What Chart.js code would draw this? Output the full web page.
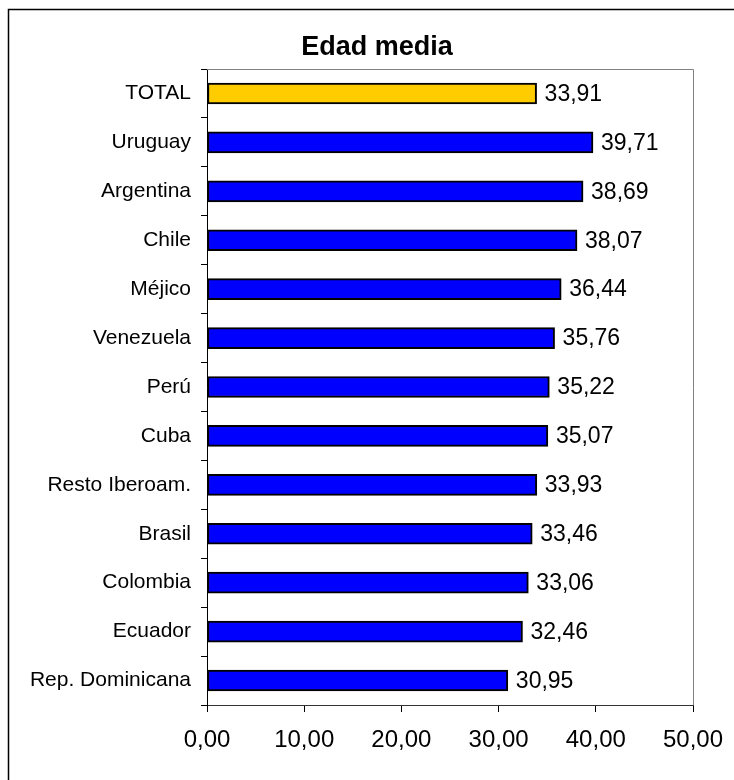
<!DOCTYPE html>
<html>
<head>
<meta charset="utf-8">
<title>Edad media</title>
<script src="https://cdn.jsdelivr.net/npm/chart.js@4.4.1/dist/chart.umd.min.js"></script>
<style>
  html, body { margin: 0; padding: 0; background: #fff; }
  #wrap { width: 734px; height: 780px; position: relative; }
</style>
</head>
<body>
<div id="wrap"><canvas id="canvas"></canvas></div>
<script>
var categories = [
    "TOTAL", "Uruguay", "Argentina", "Chile", "Méjico", "Venezuela", "Perú",
    "Cuba", "Resto Iberoam.", "Brasil", "Colombia", "Ecuador", "Rep. Dominicana"
];
var edadMedia = [33.91, 39.71, 38.69, 38.07, 36.44, 35.76, 35.22, 35.07, 33.93, 33.46, 33.06, 32.46, 30.95];
var xTicks = [0, 10, 20, 30, 40, 50];

var FONT = "'Liberation Sans', Arial, sans-serif";

function coma(v) {
    return v.toFixed(2).replace('.', ',');
}

// marco exterior, título y borde gris del área de trazado
var marco = {
    id: 'marco',
    beforeDraw: function (chart) {
        var ctx = chart.ctx;
        ctx.save();
        ctx.fillStyle = '#fff';
        ctx.fillRect(0, 0, chart.width, chart.height);
        ctx.strokeStyle = '#000';
        ctx.lineWidth = 1.5;
        ctx.strokeRect(8.5, 9.5, chart.width + 20, chart.height + 20);
        ctx.restore();
    },
    afterDatasetsDraw: function (chart) {
        var ctx = chart.ctx, a = chart.chartArea;
        ctx.save();
        ctx.strokeStyle = '#808080';
        ctx.lineWidth = 1;
        ctx.beginPath();
        ctx.moveTo(a.left, a.top + 0.5);
        ctx.lineTo(a.right + 0.5, a.top + 0.5);
        ctx.lineTo(a.right + 0.5, a.bottom);
        ctx.stroke();
        ctx.fillStyle = '#000';
        ctx.font = 'bold 27px ' + FONT;
        ctx.textAlign = 'center';
        ctx.textBaseline = 'alphabetic';
        ctx.fillText('Edad media', 377, 55);
        ctx.restore();
    }
};

// valor al final de cada barra
var etiquetas = {
    id: 'etiquetas',
    afterDatasetsDraw: function (chart) {
        var ctx = chart.ctx;
        var meta = chart.getDatasetMeta(0);
        ctx.save();
        ctx.fillStyle = '#000';
        ctx.font = '23px ' + FONT;
        ctx.textAlign = 'left';
        ctx.textBaseline = 'middle';
        meta.data.forEach(function (bar, i) {
            ctx.fillText(coma(edadMedia[i]), bar.x + 8, bar.y + 1);
        });
        ctx.restore();
    }
};

var config = {
    type: 'bar',
    data: {
        labels: categories,
        datasets: [{
            data: edadMedia,
            backgroundColor: categories.map(function (c) { return c === 'TOTAL' ? '#FFCC00' : '#0000FF'; }),
            borderColor: '#000',
            borderWidth: 2,
            borderSkipped: false,
            barThickness: 21
        }]
    },
    options: {
        indexAxis: 'y',
        responsive: true,
        maintainAspectRatio: false,
        animation: false,
        layout: { padding: { top: 69, right: 41, left: 0, bottom: 0 } },
        plugins: {
            legend: { display: false },
            title: { display: false },
            tooltip: { enabled: false }
        },
        scales: {
            x: {
                min: 0,
                max: 50,
                afterBuildTicks: function (scale) {
                    scale.ticks = xTicks.map(function (v) { return { value: v }; });
                },
                afterFit: function (scale) {
                    scale.height = 75;
                    scale.paddingLeft = 0;
                    scale.paddingRight = 0;
                },
                grid: { drawOnChartArea: false, drawTicks: true, tickLength: 7, color: '#000' },
                border: { display: true, color: '#333', width: 1 },
                ticks: {
                    color: '#000',
                    font: { family: FONT, size: 24 },
                    padding: 14,
                    maxRotation: 0,
                    callback: function (v) { return coma(v); }
                }
            },
            y: {
                afterFit: function (scale) { scale.width = 207; },
                grid: { offset: true, drawOnChartArea: false, drawTicks: true, tickLength: 6, color: '#000' },
                border: { display: true, color: '#000', width: 1 },
                ticks: {
                    color: '#000',
                    font: { family: FONT, size: 21 },
                    padding: 10,
                    autoSkip: false
                }
            }
        }
    },
    plugins: [marco, etiquetas]
};

window.graficoEdad = new Chart(document.getElementById('canvas'), config);
</script>
</body>
</html>
